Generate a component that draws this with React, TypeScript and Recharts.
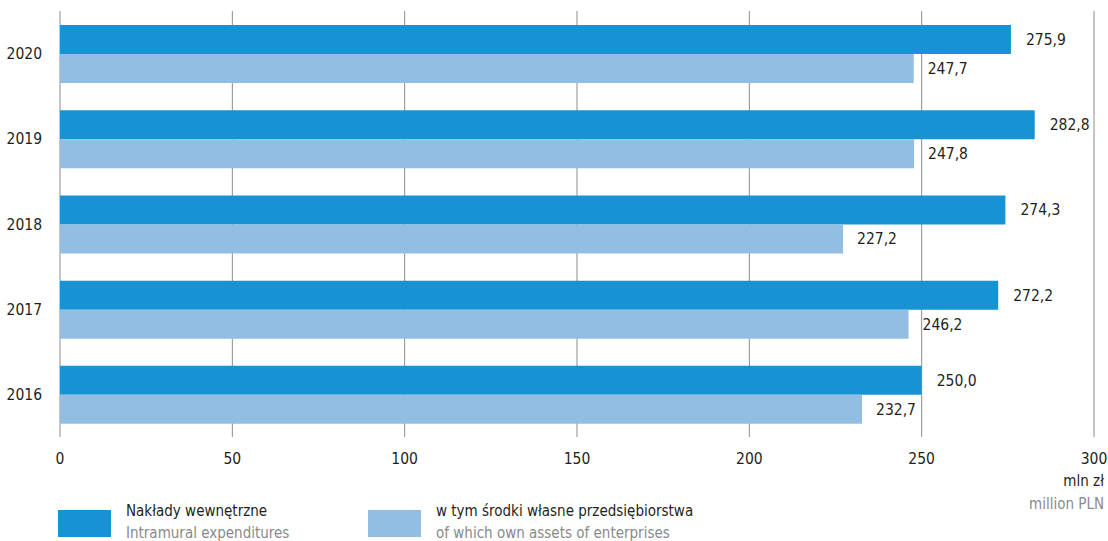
import { Bar, BarChart, CartesianGrid, LabelList, XAxis, YAxis } from 'recharts';

const FONT = '"DejaVu Sans Condensed", "Liberation Sans Narrow", "Open Sans", sans-serif';
const DARK = '#1793D3';
const LIGHT = '#93BEE3';
const TEXT = '#231F20';
const MUTED = '#8A8A8A';

const years = ['2020', '2019', '2018', '2017', '2016'];
const intramural = [275.9, 282.8, 274.3, 272.2, 250.0];
const ownAssets = [247.7, 247.8, 227.2, 246.2, 232.7];
const xTicks = [0, 50, 100, 150, 200, 250, 300];

const data = years.map((year, i) => ({ year, intramural: intramural[i], ownAssets: ownAssets[i] }));

const fmt = (v: unknown) => Number(v).toFixed(1).replace('.', ',');

const labelStyle = { fill: TEXT, fontSize: 15.5, fontFamily: FONT };

export default function App() {
  return (
    <div style={{ position: 'absolute', left: 0, top: 0, width: 1108, height: 541, background: '#fff' }}>
      <BarChart
        width={1108}
        height={541}
        data={data}
        layout="vertical"
        margin={{ top: 11, right: 14, bottom: 74, left: 0 }}
        barGap={0}
        barCategoryGap="16.5%"
      >
        <CartesianGrid horizontal={false} vertical stroke="#8c8c8c" strokeWidth={1} />
        <XAxis
          type="number"
          domain={[0, 300]}
          ticks={xTicks}
          height={30}
          axisLine={false}
          tickLine={false}
          tickMargin={10}
          tick={{ fill: TEXT, fontSize: 15.5, fontFamily: FONT }}
          interval={0}
        />
        <YAxis
          type="category"
          dataKey="year"
          width={60}
          axisLine={false}
          tickLine={false}
          tickMargin={12}
          tick={{ fill: TEXT, fontSize: 15.5, fontFamily: FONT }}
        />
        <Bar dataKey="intramural" fill={DARK} isAnimationActive={false}>
          <LabelList dataKey="intramural" position="right" offset={15} formatter={fmt} style={labelStyle} />
        </Bar>
        <Bar dataKey="ownAssets" fill={LIGHT} isAnimationActive={false}>
          <LabelList dataKey="ownAssets" position="right" offset={14} formatter={fmt} style={labelStyle} />
        </Bar>
      </BarChart>
      <svg
        width={1108}
        height={541}
        style={{ position: 'absolute', left: 0, top: 0, pointerEvents: 'none' }}
        fontFamily={FONT}
      >
        <text x={1104} y={486} textAnchor="end" fontSize={15} fill={TEXT}>
          mln zł
        </text>
        <text x={1104} y={509} textAnchor="end" fontSize={15} fill={MUTED}>
          million PLN
        </text>
        <rect x={58} y={510} width={53} height={27} fill={DARK} />
        <text x={126} y={516} fontSize={15} fill={TEXT}>
          Nakłady wewnętrzne
        </text>
        <text x={126} y={538} fontSize={15} fill={MUTED}>
          Intramural expenditures
        </text>
        <rect x={368} y={510} width={53} height={27} fill={LIGHT} />
        <text x={436} y={516} fontSize={15} fill={TEXT}>
          w tym środki własne przedsiębiorstwa
        </text>
        <text x={436} y={538} fontSize={15} fill={MUTED}>
          of which own assets of enterprises
        </text>
      </svg>
    </div>
  );
}
